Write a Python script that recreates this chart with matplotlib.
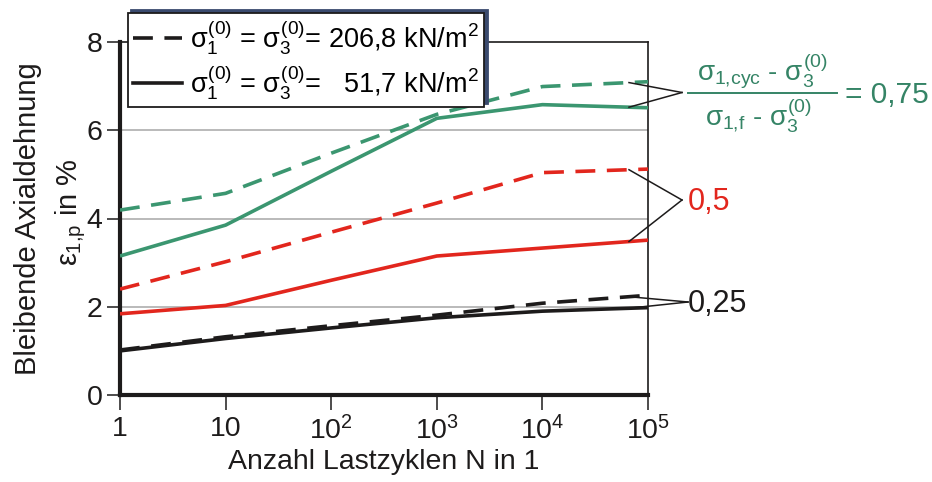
import numpy as np
import matplotlib
matplotlib.use("Agg")
import matplotlib.pyplot as plt
from matplotlib.lines import Line2D

plt.rcParams['font.family'] = ['Liberation Sans', 'DejaVu Sans']
plt.rcParams['mathtext.fontset'] = 'custom'
plt.rcParams['mathtext.rm'] = 'Liberation Sans'
plt.rcParams['mathtext.it'] = 'Liberation Sans'
plt.rcParams['mathtext.bf'] = 'Liberation Sans:bold'

# Load cycles
N = [1, 10, 100, 1000, 10000, 100000]
x_tick_labels = ["1", "10", r"10$^{2}$", r"10$^{3}$", r"10$^{4}$", r"10$^{5}$"]
y_ticks = [0, 2, 4, 6, 8]

# Permanent axial strain in %  (dashed: 206.8 kN/m², solid: 51.7 kN/m²)
eps_075_high = [4.19, 4.57, 5.48, 6.36, 6.99, 7.10]
eps_075_low = [3.15, 3.85, 5.07, 6.27, 6.58, 6.51]
eps_050_high = [2.40, 3.02, 3.69, 4.35, 5.04, 5.12]
eps_050_low = [1.84, 2.03, 2.60, 3.15, 3.33, 3.51]
eps_025_high = [1.02, 1.32, 1.57, 1.81, 2.08, 2.26]
eps_025_low = [1.00, 1.28, 1.52, 1.75, 1.90, 1.98]

GREEN = '#3b9670'
GREEN_TXT = '#358466'
RED = '#e2261d'
BLACK = '#1d1b1b'

FS = 20.5

W, H = 932, 482
fig = plt.figure(figsize=(W / 100, H / 100), dpi=100)
ax = fig.add_axes([120 / W, 1 - 395 / H, (648 - 120) / W, (395 - 42) / H])

ax.set_xscale('log')
ax.set_xlim(1, 1e5)
ax.set_ylim(0, 8)

for yv in (2, 4, 6):
    ax.axhline(yv, color='#b4b4b4', lw=1.3, zorder=1)

dash = (0, (5.5, 3.2))
lw = 2.6
series = [
    (eps_075_high, GREEN, dash), (eps_075_low, GREEN, '-'),
    (eps_050_high, RED, dash), (eps_050_low, RED, '-'),
    (eps_025_high, BLACK, dash), (eps_025_low, BLACK, '-'),
]
for vals, col, ls in series:
    ax.plot(N, vals, color=col, lw=lw, ls=ls, zorder=3,
            solid_capstyle='butt', dash_capstyle='butt')

ax.set_xticks(N)
ax.set_xticklabels(x_tick_labels)
ax.minorticks_off()
ax.set_yticks(y_ticks)
ax.tick_params(axis='both', direction='out', labelsize=FS, colors=BLACK, width=1.1)
ax.tick_params(axis='y', length=9.5, pad=3)
ax.tick_params(axis='x', length=10.5, pad=4.5)

for side in ('left', 'bottom'):
    ax.spines[side].set_linewidth(3.0)
for side in ('top', 'right'):
    ax.spines[side].set_linewidth(1.2)
for s in ax.spines.values():
    s.set_color(BLACK)

ax.set_xlabel('Anzahl Lastzyklen N in 1', fontsize=FS, labelpad=2.5, color=BLACK)

# Two-line y label
fig.text(28 / W, 1 - 219 / H, 'Bleibende Axialdehnung', rotation=90,
         ha='center', va='center', fontsize=FS + 0.5, color=BLACK)
fig.text(71 / W, 1 - 212 / H, r'$ε_{1{,}p}$ in %', rotation=90,
         ha='center', va='center', fontsize=FS + 0.5, color=BLACK)

# Legend
handles = [Line2D([], [], color=BLACK, lw=lw, ls=dash),
           Line2D([], [], color=BLACK, lw=lw, ls='-')]
labels = [r'$σ_1^{(0)}$ = $σ_3^{(0)}$= 206,8 kN/m$^2$',
          r'$σ_1^{(0)}$ = $σ_3^{(0)}$=   51,7 kN/m$^2$']
leg = ax.legend(handles, labels, loc='upper left',
                bbox_to_anchor=(128 / W, 1 - 13 / H), bbox_transform=fig.transFigure,
                fontsize=19.5, handlelength=1.8, handletextpad=0.3, borderpad=0.2,
                borderaxespad=0, labelspacing=0.2, frameon=True, fancybox=False,
                framealpha=1, edgecolor=BLACK,
                shadow={'ox': 2.5, 'oy': 2.5, 'color': '#3a4a6e', 'alpha': 1})
leg.get_frame().set_linewidth(1.3)
leg.set_zorder(5)

# Brackets pointing at the curve pairs
def log_interp(logx, vals):
    return np.interp(logx, np.log10(N), vals)

tr = ax.transData
inv = fig.transFigure.inverted()

def bracket(vals_a, vals_b, vertex_px, lx=4.82):
    for vals in (vals_a, vals_b):
        p = tr.transform((10 ** lx, log_interp(lx, vals)))
        p = inv.transform(p)
        fig.add_artist(Line2D([p[0], vertex_px[0] / W], [p[1], 1 - vertex_px[1] / H],
                              color=BLACK, lw=1.1, transform=fig.transFigure,
                              zorder=6))

bracket(eps_075_high, eps_075_low, (682, 92.5))
bracket(eps_050_high, eps_050_low, (682, 200))
bracket(eps_025_high, eps_025_low, (688, 302))

# Ratio labels
fig.text(762 / W, 1 - 71 / H, r'$σ_{1{,}cyc}$ - $σ_3^{(0)}$', ha='center', va='center',
         fontsize=20, color=GREEN_TXT)
fig.text(759 / W, 1 - 116 / H, r'$σ_{1{,}f}$ - $σ_3^{(0)}$', ha='center', va='center',
         fontsize=20, color=GREEN_TXT)
fig.add_artist(Line2D([688 / W, 837 / W], [1 - 93 / H, 1 - 93 / H], color=GREEN_TXT,
                      lw=1.4, transform=fig.transFigure))
fig.text(845 / W, 1 - 95 / H, '= 0,75', ha='left', va='center', fontsize=21.5,
         color=GREEN_TXT)
fig.text(688 / W, 1 - 202 / H, '0,5', ha='left', va='center', fontsize=22, color=RED)
fig.text(688 / W, 1 - 304 / H, '0,25', ha='left', va='center', fontsize=22, color=BLACK)

fig.savefig('out.png', dpi=100)
